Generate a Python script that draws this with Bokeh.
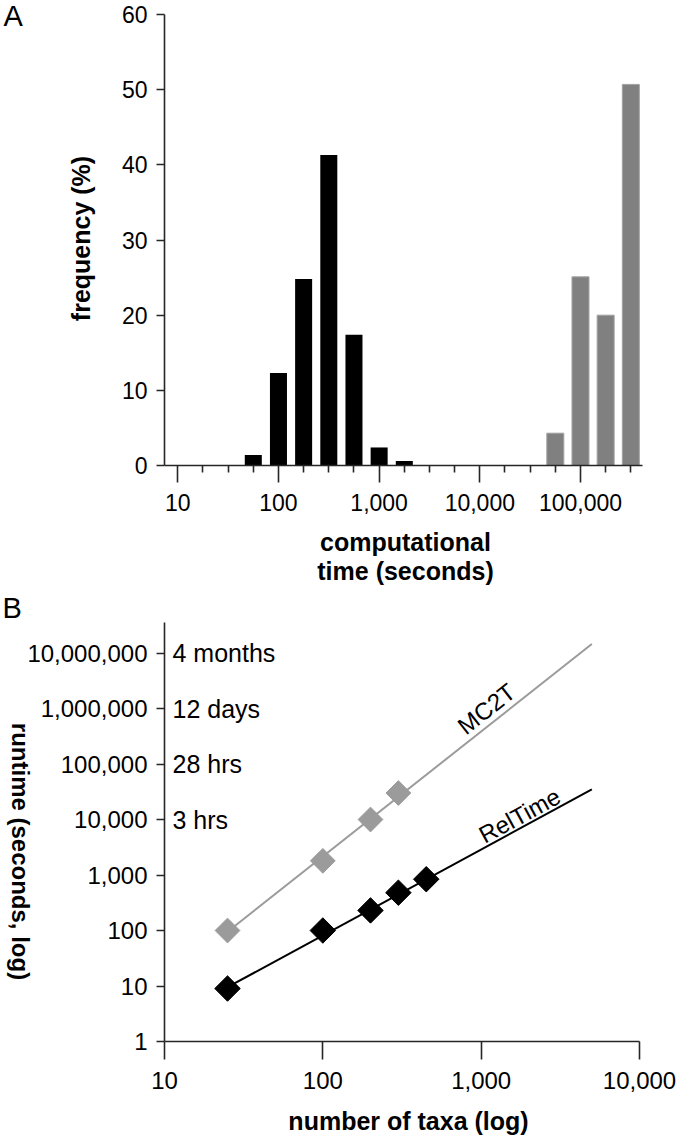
import numpy as np
from bokeh.plotting import figure
from bokeh.layouts import column
from bokeh.models import FixedTicker, Label, Range1d, ColumnDataSource
from bokeh.core.properties import value
from bokeh.embed import file_html
from bokeh.resources import INLINE

# ---------------- Panel A data (histogram of computational time) ----------------
relt_bins_log10 = [1.75, 2.0, 2.25, 2.5, 2.75, 3.0, 3.25]     # bin centres, log10(seconds)
relt_freq = [1.4, 12.3, 24.8, 41.3, 17.4, 2.4, 0.6]            # frequency (%)
mc2t_bins_log10 = [4.75, 5.0, 5.25, 5.5]
mc2t_freq = [4.3, 25.1, 20.0, 50.7]
a_yticks = [0, 10, 20, 30, 40, 50, 60]
a_xticks = [10, 100, 1000, 10000, 100000]
a_xtick_labels = ["10", "100", "1,000", "10,000", "100,000"]

# ---------------- Panel B data (runtime vs number of taxa) ----------------
mc2t_taxa = [25, 100, 200, 300]
mc2t_runtime = [100, 1800, 10000, 30000]
mc2t_fit_taxa = [25, 5000]
mc2t_fit_runtime = [95, 1.45e7]
relt_taxa = [25, 100, 200, 300, 450]
relt_runtime = [9, 100, 230, 480, 840]
relt_fit_taxa = [25, 5000]
relt_fit_runtime = [9.5, 3.5e4]
b_xticks = [10, 100, 1000, 10000]
b_xtick_labels = ["10", "100", "1,000", "10,000"]
b_yticks = [1, 10, 100, 1000, 10000, 100000, 1000000, 10000000]
b_ytick_labels = ["1", "10", "100", "1,000", "10,000", "100,000", "1,000,000", "10,000,000"]
time_equiv_runtime = [10000000, 1000000, 100000, 10000]
time_equiv_labels = ["4 months", "12 days", "28 hrs", "3 hrs"]
series_names = ["MC2T", "RelTime"]
series_label_taxa = [1080, 1750]
series_label_runtime = [9.9e5, 1.18e4]

FONT = "Liberation Sans"
AXIS_COLOR = "#262626"
GRAY = "#808080"
LIGHT_GRAY = "#9b9b9b"
BAR_HALF = 0.0845  # half bar width, in decades

W = 680
PAGE_X0 = 0

# ---- layout (page pixels) ----
A_TOP_PAGE, A_BOT_PAGE = 0, 592             # canvas of panel A
A_PL, A_PR, A_PT, A_PB = 164, 642, 14, 465  # axes box of panel A
A_XLOG = (0.868, 5.616)
A_Y = (0, 60)

B_TOP_PAGE, B_BOT_PAGE = 592, 1138
B_PL, B_PR, B_PT, B_PB = 164, 639, 622, 1041
B_XLOG = (1.0, 4.0)
B_YLOG = (0.0, 7.55)


def canvas_range(lo, hi, p_lo, p_hi, c_lo, c_hi):
    """Extend the data interval [lo, hi] drawn at pixels [p_lo, p_hi] to the canvas [c_lo, c_hi]."""
    per = (p_hi - p_lo) / (hi - lo)
    return lo - (p_lo - c_lo) / per, hi + (c_hi - p_hi) / per


def style_axes(p):
    p.outline_line_color = None
    p.xgrid.grid_line_color = None
    p.ygrid.grid_line_color = None
    for ax in (p.xaxis[0], p.yaxis[0]):
        ax.axis_line_color = AXIS_COLOR
        ax.axis_line_width = 1.6
        ax.major_tick_line_color = AXIS_COLOR
        ax.major_tick_line_width = 1.6
        ax.minor_tick_line_color = AXIS_COLOR
        ax.minor_tick_line_width = 1.6
        ax.major_tick_in = 0
        ax.minor_tick_in = 0
        ax.major_label_text_font = FONT
        ax.major_label_text_color = "black"


def lab(p, canvas_bottom_page, page_x, page_y, text, size, bold=False, angle=0.0,
        align="center", baseline="middle"):
    p.add_layout(Label(x=page_x - PAGE_X0, y=canvas_bottom_page - page_y,
                       x_units="screen", y_units="screen",
                       text=text, text_font=FONT, text_font_size=size,
                       text_font_style="bold" if bold else "normal",
                       text_color="black", angle=angle,
                       text_align=align, text_baseline=baseline))


# ================= Panel A =================
A_H = A_BOT_PAGE - A_TOP_PAGE
ax_lo, ax_hi = canvas_range(A_XLOG[0], A_XLOG[1], A_PL, A_PR, PAGE_X0, PAGE_X0 + W)
ay_lo, ay_hi = canvas_range(A_Y[0], A_Y[1], -A_PB, -A_PT, -A_BOT_PAGE, -A_TOP_PAGE)
pA = figure(width=W, height=A_H, x_axis_type="log",
            x_range=Range1d(10 ** ax_lo, 10 ** ax_hi), y_range=Range1d(ay_lo, ay_hi),
            output_backend="svg", toolbar_location=None, title=None,
            min_border_left=0, min_border_right=0, min_border_top=0, min_border_bottom=0)
style_axes(pA)

src_relt = ColumnDataSource(dict(
    left=[10 ** (c - BAR_HALF) for c in relt_bins_log10],
    right=[10 ** (c + BAR_HALF) for c in relt_bins_log10],
    top=relt_freq))
src_mc2t = ColumnDataSource(dict(
    left=[10 ** (c - BAR_HALF) for c in mc2t_bins_log10],
    right=[10 ** (c + BAR_HALF) for c in mc2t_bins_log10],
    top=mc2t_freq))
pA.quad(left="left", right="right", bottom=0, top="top", source=src_relt,
        fill_color="black", line_color=None)
pA.quad(left="left", right="right", bottom=0, top="top", source=src_mc2t,
        fill_color=GRAY, line_color="#a3a3a3", line_width=1)

minor_a = [10 ** (k / 4) for k in range(5, 23) if k % 4 != 0]
xa = pA.xaxis[0]
xa.fixed_location = 0
xa.bounds = (10 ** A_XLOG[0], 10 ** A_XLOG[1])
xa.ticker = FixedTicker(ticks=a_xticks, minor_ticks=minor_a)
xa.major_label_overrides = {t: l for t, l in zip(a_xticks, a_xtick_labels)}
xa.major_tick_out = 17
xa.minor_tick_out = 7
xa.major_label_standoff = 11
xa.major_label_text_font_size = "23px"
ya = pA.yaxis[0]
ya.fixed_location = 10 ** A_XLOG[0]
ya.bounds = A_Y
ya.ticker = FixedTicker(ticks=a_yticks, minor_ticks=[])
ya.major_tick_out = 8
ya.minor_tick_out = 0
ya.major_label_standoff = 9
ya.major_label_text_font_size = "23px"

lab(pA, A_BOT_PAGE, 3, 15, "A", "29px", align="left")
lab(pA, A_BOT_PAGE, 80, 238, "frequency (%)", "25px", bold=True, angle=np.pi / 2)
lab(pA, A_BOT_PAGE, 405, 541, "computational", "25px", bold=True)
lab(pA, A_BOT_PAGE, 405, 570, "time (seconds)", "25px", bold=True)

# ================= Panel B =================
B_H = B_BOT_PAGE - B_TOP_PAGE
bx_lo, bx_hi = canvas_range(B_XLOG[0], B_XLOG[1], B_PL, B_PR, PAGE_X0, PAGE_X0 + W)
by_lo, by_hi = canvas_range(B_YLOG[0], B_YLOG[1], -B_PB, -B_PT, -B_BOT_PAGE, -B_TOP_PAGE)
pB = figure(width=W, height=B_H, x_axis_type="log", y_axis_type="log",
            x_range=Range1d(10 ** bx_lo, 10 ** bx_hi), y_range=Range1d(10 ** by_lo, 10 ** by_hi),
            output_backend="svg", toolbar_location=None, title=None,
            min_border_left=0, min_border_right=0, min_border_top=0, min_border_bottom=0)
style_axes(pB)

pB.line(mc2t_fit_taxa, mc2t_fit_runtime, line_color=LIGHT_GRAY, line_width=2)
pB.line(relt_fit_taxa, relt_fit_runtime, line_color="black", line_width=2)
pB.scatter(mc2t_taxa, mc2t_runtime, marker="square", angle=np.pi / 4, size=17.5,
           fill_color=LIGHT_GRAY, line_color=LIGHT_GRAY)
pB.scatter(relt_taxa, relt_runtime, marker="square", angle=np.pi / 4, size=18,
           fill_color="black", line_color="black")

pB.text(x=[10 ** B_XLOG[0]] * len(time_equiv_runtime), y=time_equiv_runtime,
        text=time_equiv_labels, x_offset=8, text_align="left", text_baseline="middle",
        text_font=value(FONT), text_font_size=value("25px"), text_color="black")

xb = pB.xaxis[0]
xb.fixed_location = 10 ** B_YLOG[0]
xb.bounds = (10 ** B_XLOG[0], 10 ** B_XLOG[1])
xb.ticker = FixedTicker(ticks=b_xticks, minor_ticks=[])
xb.major_label_overrides = {t: l for t, l in zip(b_xticks, b_xtick_labels)}
xb.major_tick_out = 18
xb.minor_tick_out = 0
xb.major_label_standoff = 12
xb.major_label_text_font_size = "24px"
yb = pB.yaxis[0]
yb.fixed_location = 10 ** B_XLOG[0]
yb.bounds = (10 ** B_YLOG[0], 10 ** B_YLOG[1])
yb.ticker = FixedTicker(ticks=b_yticks, minor_ticks=[])
yb.major_label_overrides = {t: l for t, l in zip(b_yticks, b_ytick_labels)}
yb.major_tick_out = 8
yb.minor_tick_out = 0
yb.major_label_standoff = 9
yb.major_label_text_font_size = "24px"

# rotation of the series labels follows the drawn fit lines
px_dec_x = (B_PR - B_PL) / (B_XLOG[1] - B_XLOG[0])
px_dec_y = (B_PB - B_PT) / (B_YLOG[1] - B_YLOG[0])
for name, fx, fy, lx, ly in zip(series_names,
                                [mc2t_fit_taxa, relt_fit_taxa],
                                [mc2t_fit_runtime, relt_fit_runtime],
                                series_label_taxa, series_label_runtime):
    slope = (np.log10(fy[1]) - np.log10(fy[0])) / (np.log10(fx[1]) - np.log10(fx[0]))
    ang = float(np.arctan(slope * px_dec_y / px_dec_x))
    pB.add_layout(Label(x=lx, y=ly, text=name, angle=ang, text_font=FONT,
                        text_font_size="24px", text_color="black",
                        text_align="center", text_baseline="middle"))

lab(pB, B_BOT_PAGE, 2, 607, "B", "29px", align="left")
lab(pB, B_BOT_PAGE, 20, 851, "runtime (seconds, log)", "24px", bold=True, angle=-np.pi / 2)
lab(pB, B_BOT_PAGE, 408, 1120, "number of taxa (log)", "25px", bold=True)

layout = column(pA, pB)
open("out.html", "w").write(file_html(layout, INLINE))
